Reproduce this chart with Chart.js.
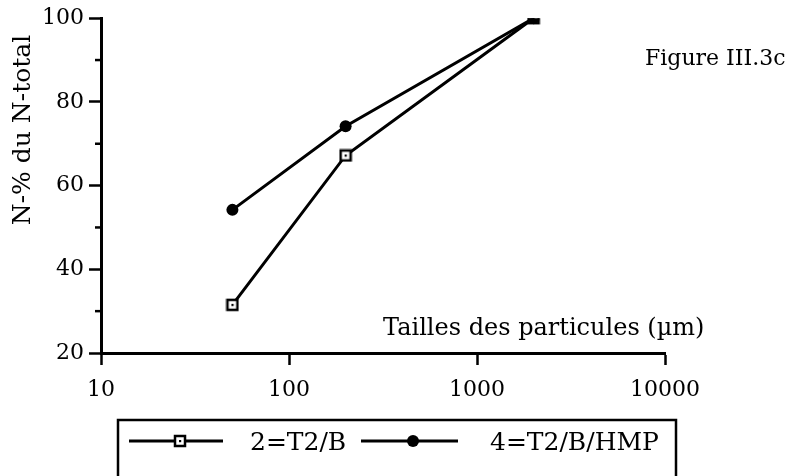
<!DOCTYPE html>
<html>
<head>
<meta charset="utf-8">
<script src="https://cdn.jsdelivr.net/npm/chart.js@4.4.2/dist/chart.umd.min.js"></script>
<style>
  html, body { margin: 0; padding: 0; background: #fff; }
  canvas { display: block; }
</style>
</head>
<body>
<canvas id="chart" width="797" height="476"></canvas>
<script>
// particle sizes (µm) and N-% of total N
const sizes = [50, 200, 2000];
const seriesT2B = [31.5, 67.2, 100];
const seriesT2BHMP = [54.2, 74.2, 100];
const xTicks = [10, 100, 1000, 10000];
const yTicks = [20, 40, 60, 80, 100];
const yMinorTicks = [30, 50, 70, 90];
const seriesNames = ["2=T2/B", "4=T2/B/HMP"];
const yTitle = "N-% du N-total";
const xTitle = "Tailles des particules (µm)";
const figTitle = "Figure III.3c";

const FONT = "'DejaVu Serif', 'Liberation Serif', serif";

// open square with a small dot in the middle
function makeSquareMarker() {
    const c = document.createElement("canvas");
    c.width = 14; c.height = 14;
    const g = c.getContext("2d");
    g.fillStyle = "#fff";
    g.fillRect(1, 1, 12, 12);
    g.strokeStyle = "#000";
    g.lineWidth = 2.5;
    g.strokeRect(2, 2, 10, 10);
    g.fillStyle = "#000";
    g.fillRect(6, 6, 2.2, 2.2);
    return c;
}
const squareMarker = makeSquareMarker();

const toPoints = vals => vals.map((v, i) => ({ x: sizes[i], y: v }));

const decorations = {
    id: "decorations",
    afterDraw(chart) {
        const ctx = chart.ctx;
        const { x, y } = chart.scales;
        ctx.save();
        ctx.strokeStyle = "#000";
        ctx.fillStyle = "#000";

        // minor y ticks
        ctx.lineWidth = 2.5;
        yMinorTicks.forEach(v => {
            const py = y.getPixelForValue(v);
            ctx.beginPath();
            ctx.moveTo(x.left - 6, py);
            ctx.lineTo(x.left, py);
            ctx.stroke();
        });

        // y axis title
        ctx.save();
        ctx.translate(23, 130);
        ctx.rotate(-Math.PI / 2);
        ctx.font = "25px " + FONT;
        ctx.textAlign = "center";
        ctx.textBaseline = "middle";
        ctx.fillText(yTitle, 0, 0);
        ctx.restore();

        // figure label and x title
        ctx.textAlign = "left";
        ctx.textBaseline = "alphabetic";
        ctx.font = "22px " + FONT;
        ctx.fillText(figTitle, 645, 65);
        ctx.font = "24px " + FONT;
        ctx.fillText(xTitle, 383, 335);

        // legend box
        ctx.lineWidth = 2.5;
        ctx.strokeRect(118, 420, 558, 70);
        const ly = 441;
        ctx.lineWidth = 3;
        ctx.beginPath();
        ctx.moveTo(129, ly); ctx.lineTo(223, ly);
        ctx.moveTo(361, ly); ctx.lineTo(458, ly);
        ctx.stroke();
        ctx.drawImage(squareMarker, 180 - 7, ly - 7);
        ctx.beginPath();
        ctx.arc(413, ly, 6, 0, Math.PI * 2);
        ctx.fill();
        ctx.font = "25px " + FONT;
        ctx.textBaseline = "middle";
        ctx.fillText(seriesNames[0], 250, ly + 2);
        ctx.fillText(seriesNames[1], 490, ly + 2);
        ctx.restore();
    }
};

const axisCommon = {
    border: { display: true, color: "#000", width: 3 },
    grid: {
        drawOnChartArea: false,
        drawTicks: true,
        tickLength: 12,
        tickColor: "#000",
        tickWidth: 2.5
    },
    ticks: {
        color: "#000",
        font: { family: FONT, size: 22 },
        autoSkip: false,
        maxRotation: 0,
        callback: v => String(v)
    }
};

new Chart(document.getElementById("chart"), {
    type: "scatter",
    data: {
        datasets: [
            {
                label: seriesNames[0],
                data: toPoints(seriesT2B),
                showLine: true,
                borderColor: "#000",
                borderWidth: 3,
                pointStyle: squareMarker,
                pointRadius: 7,
                order: 1
            },
            {
                label: seriesNames[1],
                data: toPoints(seriesT2BHMP),
                showLine: true,
                borderColor: "#000",
                borderWidth: 3,
                backgroundColor: "#000",
                pointStyle: "circle",
                pointRadius: 6,
                pointBorderWidth: 0,
                order: 0
            }
        ]
    },
    options: {
        responsive: false,
        animation: false,
        layout: { padding: { top: 16, right: 132, left: 0, bottom: 0 } },
        plugins: {
            legend: { display: false },
            tooltip: { enabled: false }
        },
        scales: {
            x: {
                ...axisCommon,
                type: "logarithmic",
                min: 10,
                max: 10000,
                ticks: { ...axisCommon.ticks, padding: 12 },
                afterBuildTicks: s => { s.ticks = xTicks.map(v => ({ value: v })); },
                afterFit: s => { s.height = 123; }
            },
            y: {
                ...axisCommon,
                min: 20,
                max: 100,
                ticks: { ...axisCommon.ticks, padding: 5 },
                afterBuildTicks: s => { s.ticks = yTicks.map(v => ({ value: v })); },
                afterFit: s => { s.width = 101; }
            }
        }
    },
    plugins: [decorations]
});
</script>
</body>
</html>
